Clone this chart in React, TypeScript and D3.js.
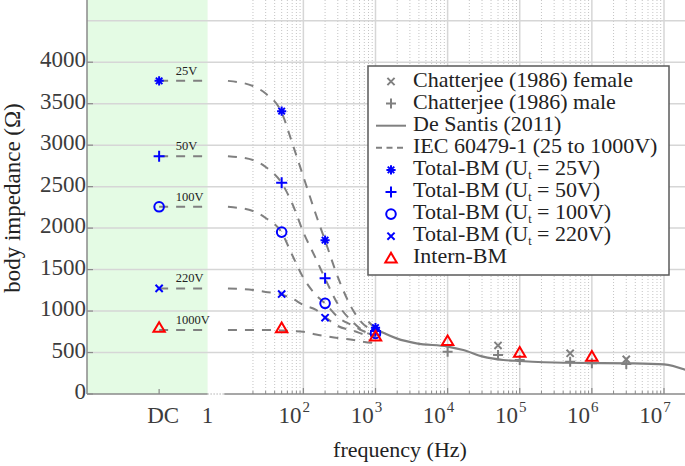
import React from "react";
import * as d3 from "d3";

const W = 685;
const H = 466;
const plotLeft = 87;
const plotTop = 0;
const plotBottom = 394;

// axes
const xDomain: [number, number] = [0.1, 2e7];
const yDomain: [number, number] = [0, 4750];
const yTicks = [0, 500, 1000, 1500, 2000, 2500, 3000, 3500, 4000];
const yGridValues = [500, 1000, 1500, 2000, 2500, 3000, 3500, 4000, 4500];
const xMajorExps = [2, 3, 4, 5, 6, 7];
const dcFreq = 1; // where the DC column is placed
const breakFreq = 4.7; // end of the DC (green) zone, labelled "1"
const logStartFreq = 8; // start of the continuous log axis
const voltLabelFreq = 1.7;

// IEC 60479-1 curves
const iecFreqs = [9, 20, 30, 50, 70, 100, 150, 200, 300, 500, 700, 1000];
const iec25 = [3775, 3713, 3622, 3394, 3026, 2620, 2158, 1851, 1411, 995, 832, 775];
const iec50 = [2867, 2821, 2737, 2544, 2297, 1950, 1627, 1392, 1085, 856, 753, 700];
const iec100 = [2257, 2206, 2122, 1947, 1676, 1400, 1193, 1093, 928, 820, 753, 720];
const iec220 = [1273, 1254, 1230, 1200, 1151, 1073, 1013, 928, 820, 760, 717, 685];
const iec1000 = [771, 771, 771, 766, 760, 751, 717, 699, 675, 651, 627, 615];
const iecSeries = [iec25, iec50, iec100, iec220, iec1000];
const voltageLabels = ["25V", "50V", "100V", "220V", "1000V"];

// De Santis (2011)
const deSantisFreqs = [800, 1000, 1400, 2000, 3700, 1e4, 1.65e4, 3.1e4, 5.9e4, 1e5, 4e5, 3.4e6, 1e7, 2e7];
const deSantisVals = [872, 792, 723, 668, 611, 572, 530, 450, 410, 398, 377, 370, 358, 290];

// Total-BM
const tbFreqs = [1, 50, 200, 1000];
const tb25 = [3775, 3410, 1855, 800];
const tb50 = [2867, 2546, 1394, 760];
const tb100 = [2257, 1952, 1093, 730];
const tb220 = [1273, 1205, 920, 745];

// Intern-BM
const internFreqs = [1, 50, 1000, 1e4, 1e5, 1e6];
const internVals = [800, 795, 695, 640, 500, 452];

// Chatterjee (1986)
const chatFemaleFreqs = [5e4, 5e5, 3e6];
const chatFemaleVals = [585, 491, 418];
const chatMaleFreqs = [1e4, 5e4, 1e5, 5e5, 1e6, 3e6];
const chatMaleVals = [510, 470, 410, 390, 372, 362];

const legendLabels = [
  "Chatterjee (1986) female",
  "Chatterjee (1986) male",
  "De Santis (2011)",
  "IEC 60479-1 (25 to 1000V)",
  "Total-BM (U|t| = 25V)",
  "Total-BM (U|t| = 50V)",
  "Total-BM (U|t| = 100V)",
  "Total-BM (U|t| = 220V)",
  "Intern-BM",
];

const FONT = "'Liberation Serif', 'Times New Roman', serif";
const BLUE = "#0000ff";
const RED = "#ff0000";
const GRAY = "#808080";

const x = d3.scaleLog().domain(xDomain).range([plotLeft, 685.7]);
const y = d3.scaleLinear().domain(yDomain).range([plotBottom, plotTop]);

type MarkerKind = "star" | "plus" | "circle" | "cross" | "triangle" | "gx" | "gplus";

function Marker({ kind, cx, cy }: { kind: MarkerKind; cx: number; cy: number }) {
  const t = `translate(${cx},${cy})`;
  if (kind === "star") {
    const s = 4.6;
    const a = s * 0.707;
    return (
      <path
        transform={t}
        d={`M${-s},0L${s},0M0,${-s}L0,${s}M${-a},${-a}L${a},${a}M${-a},${a}L${a},${-a}`}
        stroke={BLUE}
        strokeWidth={2}
        fill="none"
      />
    );
  }
  if (kind === "plus") {
    const s = 5.5;
    return <path transform={t} d={`M${-s},0L${s},0M0,${-s}L0,${s}`} stroke={BLUE} strokeWidth={2} fill="none" />;
  }
  if (kind === "circle") {
    return <circle cx={cx} cy={cy} r={4.8} stroke={BLUE} strokeWidth={2} fill="none" />;
  }
  if (kind === "cross") {
    const s = 3.6;
    return <path transform={t} d={`M${-s},${-s}L${s},${s}M${-s},${s}L${s},${-s}`} stroke={BLUE} strokeWidth={2} fill="none" />;
  }
  if (kind === "triangle") {
    return <path transform={t} d="M0,-5.5L5.7,4.2L-5.7,4.2Z" stroke={RED} strokeWidth={2} fill="none" />;
  }
  if (kind === "gx") {
    const s = 3.6;
    return <path transform={t} d={`M${-s},${-s}L${s},${s}M${-s},${s}L${s},${-s}`} stroke={GRAY} strokeWidth={2} fill="none" />;
  }
  const s = 5;
  return <path transform={t} d={`M${-s},0L${s},0M0,${-s}L0,${s}`} stroke={GRAY} strokeWidth={2} fill="none" />;
}

function LegendText({ label, tx, ty }: { label: string; tx: number; ty: number }) {
  const parts = label.split("|");
  if (parts.length === 1) {
    return (
      <text x={tx} y={ty} fontSize={22} fontFamily={FONT} fill="#222" dominantBaseline="middle">
        {label}
      </text>
    );
  }
  return (
    <text x={tx} y={ty} fontSize={22} fontFamily={FONT} fill="#222" dominantBaseline="middle">
      <tspan>{parts[0]}</tspan>
      <tspan fontSize={12} dy={6}>{parts[1]}</tspan>
      <tspan dy={-6}>{parts[2]}</tspan>
    </text>
  );
}

export default function App() {
  const line = d3
    .line<[number, number]>()
    .x((d) => x(d[0]))
    .y((d) => y(d[1]))
    .curve(d3.curveMonotoneX);

  const minorFreqs: number[] = [];
  for (let e = 1; e <= 7; e++) {
    for (let k = 2; k <= 9; k++) {
      const f = k * Math.pow(10, e);
      if (f <= xDomain[1]) minorFreqs.push(f);
    }
  }

  const xBreak = x(breakFreq);
  const xLogStart = x(logStartFreq);
  const legendX = 368;
  const legendY = 66;
  const legendW = 301;
  const legendH = 209;
  const rowH = 22.1;
  const legendKinds: (MarkerKind | "solid" | "dashed")[] = [
    "gx",
    "gplus",
    "solid",
    "dashed",
    "star",
    "plus",
    "circle",
    "cross",
    "triangle",
  ];

  const tbSeries: { vals: number[]; kind: MarkerKind }[] = [
    { vals: tb25, kind: "star" },
    { vals: tb50, kind: "plus" },
    { vals: tb100, kind: "circle" },
    { vals: tb220, kind: "cross" },
  ];

  return (
    <svg
      width={W}
      height={H}
      style={{ position: "absolute", left: 0, top: 0, background: "#fff" }}
      xmlns="http://www.w3.org/2000/svg"
    >
      <defs>
        <clipPath id="plotClip">
          <rect x={plotLeft} y={plotTop} width={W - plotLeft} height={plotBottom - plotTop} />
        </clipPath>
      </defs>
      <rect x={0} y={0} width={W} height={H} fill="#fff" />
      {/* DC zone */}
      <rect x={plotLeft} y={plotTop} width={xBreak - plotLeft} height={plotBottom - plotTop} fill="#e4fbe4" />

      {/* minor grid */}
      {minorFreqs.map((f) => (
        <line
          key={"mg" + f}
          x1={x(f)}
          x2={x(f)}
          y1={plotTop}
          y2={plotBottom}
          stroke="#c4c4c4"
          strokeWidth={1}
          strokeDasharray="1,2"
        />
      ))}
      {/* major grid */}
      {xMajorExps.map((e) => (
        <line
          key={"xg" + e}
          x1={x(Math.pow(10, e))}
          x2={x(Math.pow(10, e))}
          y1={plotTop}
          y2={plotBottom}
          stroke="#d6d6d6"
          strokeWidth={1.5}
        />
      ))}
      {yGridValues.map((v) => (
        <line key={"yg" + v} x1={plotLeft} x2={W} y1={y(v)} y2={y(v)} stroke="#d6d6d6" strokeWidth={1.5} />
      ))}

      {/* axes */}
      <line x1={plotLeft} x2={plotLeft} y1={plotTop} y2={plotBottom} stroke="#8a8a8a" strokeWidth={1.5} />
      <line x1={plotLeft} x2={xBreak} y1={plotBottom} y2={plotBottom} stroke="#8a8a8a" strokeWidth={1.5} />
      <line
        x1={xBreak}
        x2={xLogStart}
        y1={plotBottom}
        y2={plotBottom}
        stroke="#8a8a8a"
        strokeWidth={1.2}
        strokeDasharray="1,2"
      />
      <line x1={xLogStart} x2={W} y1={plotBottom} y2={plotBottom} stroke="#8a8a8a" strokeWidth={1.5} />
      {yTicks.map((v) => (
        <line key={"yt" + v} x1={plotLeft} x2={plotLeft + 6} y1={y(v)} y2={y(v)} stroke="#8a8a8a" strokeWidth={1.2} />
      ))}
      {minorFreqs.map((f) => (
        <line
          key={"mt" + f}
          x1={x(f)}
          x2={x(f)}
          y1={plotBottom}
          y2={plotBottom - 3}
          stroke="#8a8a8a"
          strokeWidth={1}
        />
      ))}
      {xMajorExps.map((e) => (
        <line
          key={"xt" + e}
          x1={x(Math.pow(10, e))}
          x2={x(Math.pow(10, e))}
          y1={plotBottom}
          y2={plotBottom - 6}
          stroke="#8a8a8a"
          strokeWidth={1.2}
        />
      ))}
      <line x1={x(dcFreq)} x2={x(dcFreq)} y1={plotBottom} y2={plotBottom - 5} stroke="#8a8a8a" strokeWidth={1.2} />

      {/* y tick labels */}
      {yTicks.map((v) => (
        <text
          key={"yl" + v}
          x={plotLeft - 1}
          y={y(v)}
          textAnchor="end"
          dominantBaseline="middle"
          fontSize={23}
          fontFamily={FONT}
          fill="#3c3c3c"
        >
          {v}
        </text>
      ))}
      {/* x tick labels */}
      <text x={x(dcFreq) + 4} y={423} textAnchor="middle" fontSize={23} fontFamily={FONT} fill="#3c3c3c">
        DC
      </text>
      <text x={xBreak} y={423} textAnchor="middle" fontSize={23} fontFamily={FONT} fill="#3c3c3c">
        1
      </text>
      {xMajorExps.map((e) => (
        <text
          key={"xl" + e}
          x={x(Math.pow(10, e)) - 9}
          y={423}
          textAnchor="middle"
          fontSize={23}
          fontFamily={FONT}
          fill="#3c3c3c"
        >
          10
          <tspan fontSize={15} dy={-11} dx={1}>
            {e}
          </tspan>
        </text>
      ))}

      {/* axis titles */}
      <text x={400} y={457} textAnchor="middle" fontSize={22} fontFamily={FONT} fill="#222">
        frequency (Hz)
      </text>
      <text
        transform={`translate(20,198) rotate(-90)`}
        textAnchor="middle"
        fontSize={23}
        fontFamily={FONT}
        fill="#222"
      >
        {"body impedance (\u03a9)"}
      </text>

      <g clipPath="url(#plotClip)">
        {/* IEC DC segments */}
        {iecSeries.map((s, i) => (
          <path
            key={"dc" + i}
            d={line([
              [dcFreq, s[0]],
              [breakFreq * 0.94, s[0]],
            ]) as string}
            fill="none"
            stroke={GRAY}
            strokeWidth={2}
            strokeDasharray="9,8"
          />
        ))}
        {/* IEC curves */}
        {iecSeries.map((s, i) => (
          <path
            key={"iec" + i}
            d={line(iecFreqs.map((f, j) => [f, s[j]] as [number, number])) as string}
            fill="none"
            stroke={GRAY}
            strokeWidth={2}
            strokeDasharray="9,8"
          />
        ))}
        {/* De Santis */}
        <path
          d={line(deSantisFreqs.map((f, j) => [f, deSantisVals[j]] as [number, number])) as string}
          fill="none"
          stroke={GRAY}
          strokeWidth={2.2}
        />
        {/* voltage labels */}
        {iecSeries.map((s, i) => (
          <text
            key={"vl" + i}
            x={x(voltLabelFreq)}
            y={y(s[0]) - 6}
            fontSize={12.5}
            fontFamily={FONT}
            fill="#222"
          >
            {voltageLabels[i]}
          </text>
        ))}
        {/* Chatterjee */}
        {chatFemaleFreqs.map((f, j) => (
          <Marker key={"cf" + j} kind="gx" cx={x(f)} cy={y(chatFemaleVals[j])} />
        ))}
        {chatMaleFreqs.map((f, j) => (
          <Marker key={"cm" + j} kind="gplus" cx={x(f)} cy={y(chatMaleVals[j])} />
        ))}
        {/* Total-BM */}
        {tbSeries.map((s, i) =>
          tbFreqs.map((f, j) => <Marker key={"tb" + i + "-" + j} kind={s.kind} cx={x(f)} cy={y(s.vals[j])} />)
        )}
        {/* Intern-BM */}
        {internFreqs.map((f, j) => (
          <Marker key={"ib" + j} kind="triangle" cx={x(f)} cy={y(internVals[j])} />
        ))}
      </g>

      {/* legend */}
      <rect x={legendX} y={legendY} width={legendW} height={legendH} fill="#fff" stroke="#5a5a5a" strokeWidth={1.5} />
      {legendLabels.map((lab, i) => {
        const cy = legendY + 15.5 + i * rowH;
        const k = legendKinds[i];
        let sym: React.ReactNode;
        if (k === "solid") {
          sym = <line x1={legendX + 8} x2={legendX + 38} y1={cy} y2={cy} stroke={GRAY} strokeWidth={2} />;
        } else if (k === "dashed") {
          sym = (
            <line
              x1={legendX + 8}
              x2={legendX + 38}
              y1={cy}
              y2={cy}
              stroke={GRAY}
              strokeWidth={2}
              strokeDasharray="6,4.5"
            />
          );
        } else {
          sym = <Marker kind={k} cx={legendX + 23} cy={cy} />;
        }
        return (
          <g key={"lg" + i}>
            {sym}
            <LegendText label={lab} tx={legendX + 45} ty={cy} />
          </g>
        );
      })}
    </svg>
  );
}
